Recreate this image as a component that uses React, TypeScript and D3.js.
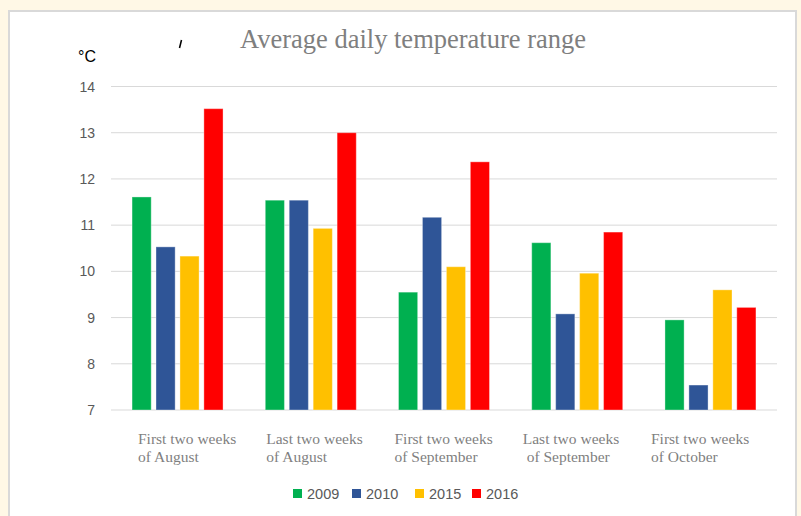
import React from 'react';
import * as d3 from 'd3';

const width = 801;
const height = 516;

const categories = [
  ['First two weeks', 'of August'],
  ['Last two weeks', 'of August'],
  ['First two weeks', 'of September'],
  ['Last two weeks', ' of September'],
  ['First two weeks', 'of October'],
];
const years = ['2009', '2010', '2015', '2016'];
const colors = ['#00b050', '#2f5597', '#ffc000', '#ff0000'];

const values2009 = [11.61, 11.54, 9.55, 10.62, 8.95];
const values2010 = [10.53, 11.54, 11.17, 9.08, 7.54];
const values2015 = [10.33, 10.93, 10.1, 9.96, 9.6];
const values2016 = [13.52, 13.0, 12.37, 10.85, 9.22];
const series = [values2009, values2010, values2015, values2016];

const yTicks = [7, 8, 9, 10, 11, 12, 13, 14];

const left = 111;
const right = 777;
const top = 86.5;
const bottom = 410;

const catKeys = categories.map((c) => c.join(' '));

const x0 = d3.scaleBand().domain(catKeys).range([left, right]).paddingInner(0.317).paddingOuter(0.158);
const x1 = d3.scaleBand().domain(years).range([0, x0.bandwidth()]).paddingInner(0.2);
const y = d3.scaleLinear().domain([7, 14]).range([bottom, top]);
const labelX = d3.scalePoint().domain(catKeys).range([left + 27, left + 540]);

const serif = '"Liberation Serif", "DejaVu Serif", serif';
const sans = '"Liberation Sans", Arial, sans-serif';

const App = () => {
  return (
    <svg width={width} height={height} style={{ position: 'absolute', left: 0, top: 0 }}>
      <rect width={width} height={height} fill="#fff8e6" />
      <rect x={9} y={11} width={787} height={height} fill="#fff" stroke="#d9d9d9" strokeWidth={2} />

      <text x={413} y={48} textAnchor="middle" fontFamily={serif} fontSize={26.5} fill="#7f7f7f">
        Average daily temperature range
      </text>
      <path d="M179.5,48 L181.5,40" stroke="#000" strokeWidth={1.5} />

      <text x={78} y={62} fontFamily={sans} fontSize={16} fill="#000">°C</text>

      {yTicks.map((t) => (
        <g key={t}>
          <line x1={left} x2={right} y1={y(t)} y2={y(t)} stroke="#d9d9d9" strokeWidth={1} />
          <text x={95} y={y(t) + 5} textAnchor="end" fontFamily={sans} fontSize={14} fill="#595959">
            {t}
          </text>
        </g>
      ))}

      {catKeys.map((k, i) => (
        <g key={k} transform={`translate(${x0(k)},0)`}>
          {series.map((s, j) => (
            <rect
              key={years[j]}
              x={x1(years[j])}
              y={y(s[i])}
              width={x1.bandwidth()}
              height={y(7) - y(s[i])}
              fill={colors[j]}
              stroke="#fff"
              strokeOpacity={0.35}
              strokeWidth={1}
            />
          ))}
        </g>
      ))}

      {categories.map((c, i) => (
        <text key={i} fontFamily={serif} fontSize={15.5} fill="#7f7f7f" style={{ whiteSpace: 'pre' }}>
          <tspan x={labelX(catKeys[i])} y={444}>{c[0]}</tspan>
          <tspan x={labelX(catKeys[i])} y={462}>{c[1]}</tspan>
        </text>
      ))}

      {years.map((yr, j) => {
        const lx = [293, 352, 415, 472][j];
        return (
          <g key={yr}>
            <rect x={lx} y={489} width={9} height={9} fill={colors[j]} />
            <text x={lx + 14} y={499} fontFamily={sans} fontSize={14.5} fill="#595959">{yr}</text>
          </g>
        );
      })}
    </svg>
  );
};

export default App;
